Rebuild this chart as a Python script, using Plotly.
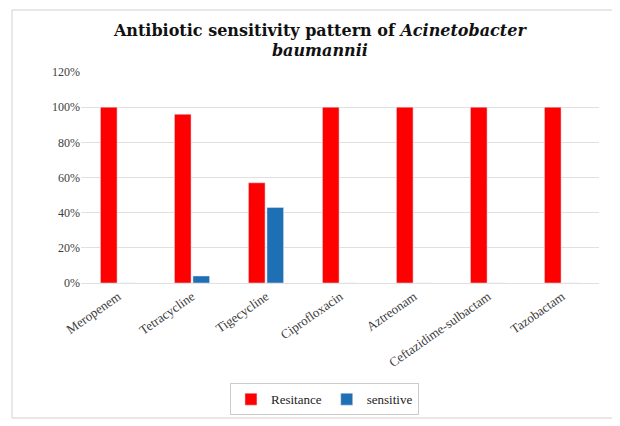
import plotly.graph_objects as go

categories = ["Meropenem", "Tetracycline", "Tigecycline", "Ciprofloxacin",
              "Aztreonam", "Ceftazidime-sulbactam", "Tazobactam"]
resistance = [1.00, 0.96, 0.57, 1.00, 1.00, 1.00, 1.00]
sensitive = [0, 0.04, 0.43, 0, 0, 0, 0]

fig = go.Figure()
fig.add_trace(go.Bar(x=categories, y=resistance, name="Resitance",
                     marker_color="#ff0000"))
fig.add_trace(go.Bar(x=categories, y=sensitive, name="sensitive",
                     marker_color="#1f6fb5"))

L, R, T, B = 73, 29, 64, 151
fig.update_layout(
    width=620, height=426,
    margin=dict(l=L, r=R, t=T, b=B, autoexpand=False),
    paper_bgcolor="white", plot_bgcolor="white",
    barmode="group", bargap=0.5, bargroupgap=0.1,
    font=dict(family="Liberation Serif", color="#404040", size=12),
    title=dict(text="<b>Antibiotic sensitivity pattern of <i>Acinetobacter</i><br><i>baumannii</i></b>",
               x=0.503, xanchor="center", y=0.935, yanchor="top", automargin=False,
               font=dict(family="DejaVu Serif", size=16, color="#111111")),
    legend=dict(orientation="h", x=0.47, xanchor="center", y=-0.475, yanchor="top",
                font=dict(family="Liberation Serif", size=13, color="#222222"),
                bordercolor="#cccccc", borderwidth=1, itemwidth=30,
                tracegroupgap=0),
    showlegend=True,
)
fig.update_yaxes(range=[0, 1.2], dtick=0.2, tickformat=".0%", automargin=False,
                 showgrid=True, gridcolor="#e0e0e0", zeroline=False,
                 showline=False, ticks="", tickfont=dict(size=12, color="#404040"))
fig.update_xaxes(tickangle=-35, showline=True, linecolor="#e0e0e0", automargin=False,
                 tickfont=dict(size=13, color="#404040"))
ph = 426 - T - B
pw = 620 - L - R
fig.add_shape(type="rect", xref="paper", yref="paper",
              x0=(4 - L) / pw, x1=(605 - L) / pw,
              y0=(426 - B - 410) / ph, y1=(426 - B - 2) / ph,
              line=dict(color="#d0d0d0", width=1))
fig.write_html("out.html")
